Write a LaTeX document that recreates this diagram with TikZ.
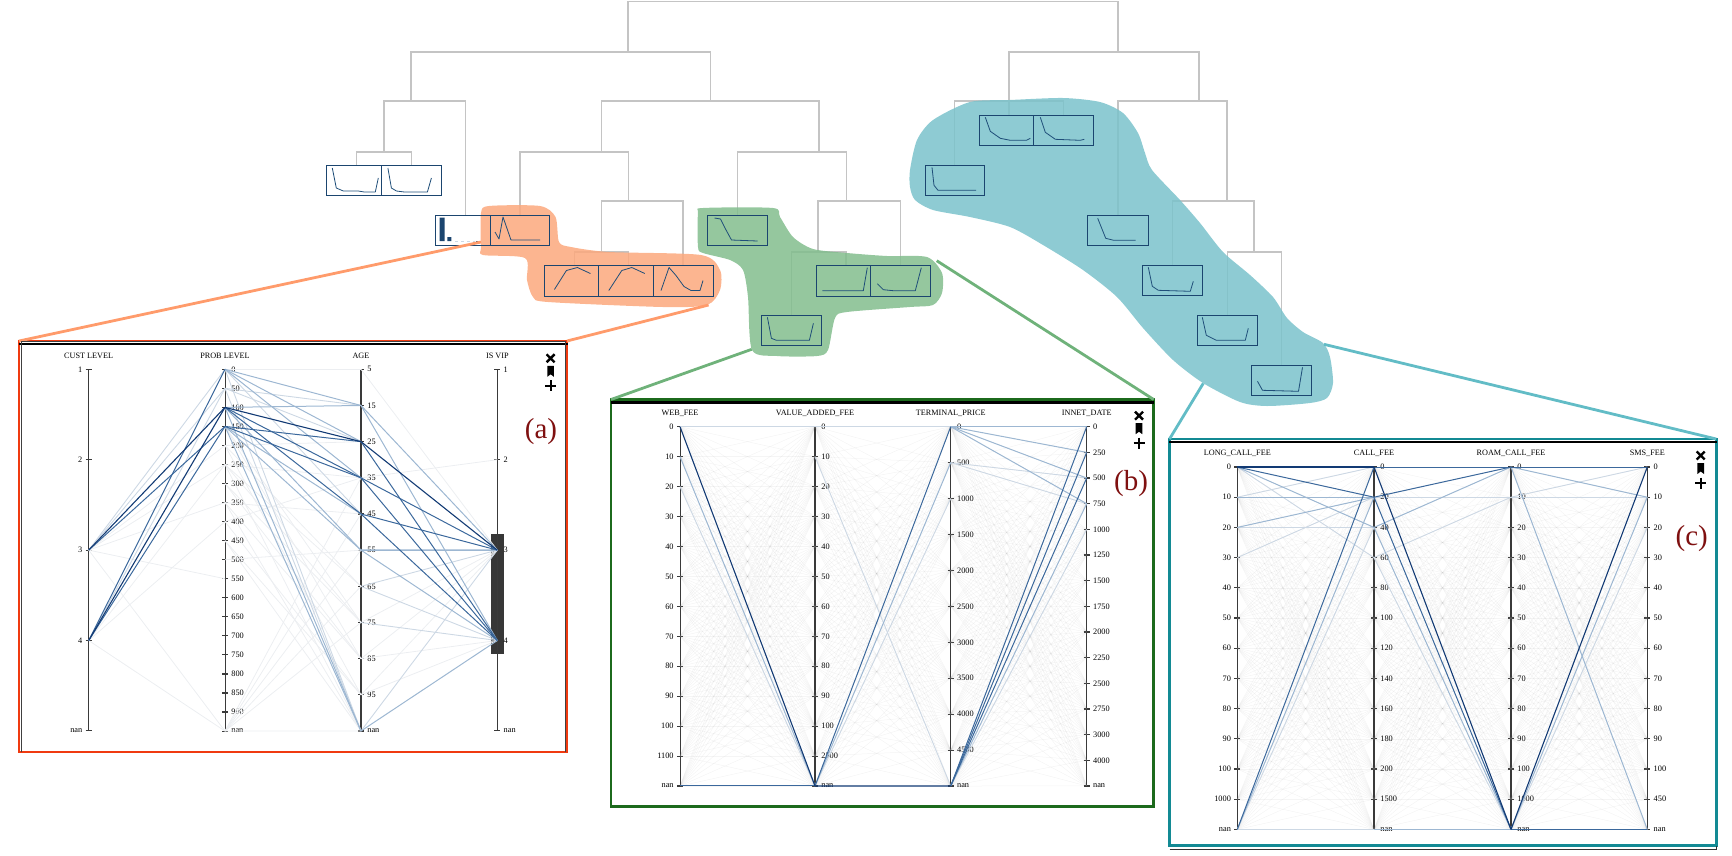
\documentclass[tikz,border=0pt]{standalone}
\usepackage{fontspec}
\setmainfont{Liberation Serif}
\usetikzlibrary{positioning,calc}
\definecolor{treegray}{HTML}{C4C4C4}
\definecolor{boxblue}{HTML}{1B456F}
\definecolor{sparkblue}{HTML}{1F4E79}
\definecolor{blobteal}{RGB}{122,194,203}
\definecolor{blobgreen}{RGB}{130,189,141}
\definecolor{bloborange}{RGB}{252,168,125}
\definecolor{linkorange}{HTML}{FF9B6B}
\definecolor{linkgreen}{HTML}{6FB27A}
\definecolor{linkteal}{HTML}{62BCC6}
\definecolor{frameorange}{HTML}{F03A10}
\definecolor{framegreen}{HTML}{1C6A1C}
\definecolor{frameteal}{HTML}{138A94}
\definecolor{markred}{HTML}{7F1010}
\definecolor{axisdark}{HTML}{3A3A3A}
\definecolor{rundark}{HTML}{123A74}
\definecolor{runmid}{HTML}{3B689C}
\definecolor{runlight}{HTML}{9DB7D2}
\definecolor{runpale}{HTML}{CDD8E4}
\definecolor{runfaint}{HTML}{ECEEF1}
\tikzset{
  treeline/.style={draw=treegray,line width=1.3pt},
  sparkbox/.style={inner sep=0pt,outer sep=0pt,minimum height=30.5pt,anchor=north west},
  sparkrun/.style={draw=sparkblue,line width=0.8pt,line join=round},
  panelframe/.style={draw=#1,line width=2.6pt,inner sep=0pt,outer sep=0pt,anchor=north west},
  axistext/.style={font=\fontsize{8.3}{8.3}\selectfont,inner sep=0pt},
  headtext/.style={font=\fontsize{8.2}{8.2}\selectfont,inner sep=0pt},
  panelmark/.style={font=\fontsize{29}{29}\selectfont,text=markred,inner sep=0pt},
  linkrun/.style={draw=#1,line width=2.8pt},
  darkrun/.style={draw=rundark,line width=1.1pt},
  midrun/.style={draw=runmid,line width=1pt},
  lightrun/.style={draw=runlight,line width=1pt},
  palerun/.style={draw=runpale,line width=0.9pt},
  faintrun/.style={draw=runfaint,line width=0.8pt},
  latticerun/.style={draw=black!45,line width=0.5pt,opacity=0.09},
  paneltools/.pic={
    \draw[black,line width=2.4pt] (-4,-17) -- (4,-9) (-4,-9) -- (4,-17);
    \fill[black] (-3.3,-5.5) -- (3.3,-5.5) -- (3.3,5.5) -- (0,3) -- (-3.3,5.5) -- cycle;
    \draw[black,line width=2.2pt] (-5.5,14.5) -- (5.5,14.5) (0,9) -- (0,20);
  }
}
% name, x, top, bottom, step, label side, labels
\newcommand{\paxis}[8][1pt]{
  \draw[draw=axisdark,line width=#1] (#3,#4) -- (#3,#5);
  \foreach \lab [count=\i from 0] in {#8} {
    \coordinate (#2-\i) at (#3,{#4+\i*#6});
    \draw[draw=axisdark,line width=1.1pt] ([xshift=-3pt]#2-\i) -- ([xshift=3pt]#2-\i);
    \node[axistext,#7=6.2pt] (#2-l\i) at (#2-\i) {\lab};
  }
}
\newcommand{\plattice}[4]{
  \foreach \i in {0,...,#2} \foreach \j in {0,...,#4} \draw[latticerun] (#1-\i) -- (#3-\j);
}
\begin{document}
\begin{tikzpicture}[x=1pt,y=-1pt]
\useasboundingbox (0,0) rectangle (1732,855);

% leaves of the tree
\coordinate (rootbar) at (628,1.5);
\coordinate (na) at (628,52); \coordinate (nb) at (1118,52);
\coordinate (na1) at (411,101); \coordinate (na2) at (710.5,101);
\coordinate (nb1) at (1009,101); \coordinate (nb2) at (1199,101);
\coordinate (na11) at (384,152); \coordinate (na21) at (601.5,152); \coordinate (na22) at (819,152);
\coordinate (na212) at (628.6,201); \coordinate (na222) at (846.4,201); \coordinate (nb22) at (1227,201);
\coordinate (na2121) at (601.5,252); \coordinate (na2221) at (818,252); \coordinate (nb222) at (1254,252);

\node[sparkbox,minimum width=55pt] (s1) at (326.3,165) {};
\node[sparkbox,minimum width=59.6pt] (s2) at (381.4,165) {};
\node[sparkbox,minimum width=54.6pt] (o1) at (435.4,215) {};
\node[sparkbox,minimum width=59.8pt] (o2) at (490,215) {};
\node[sparkbox,minimum width=54.4pt] (o3) at (544.4,265.5) {};
\node[sparkbox,minimum width=54.2pt] (o4) at (598.8,265.5) {};
\node[sparkbox,minimum width=60pt] (o5) at (653,265.5) {};
\node[sparkbox,minimum width=60pt] (g1) at (707.5,215) {};
\node[sparkbox,minimum width=54pt] (g2) at (816.3,265.7) {};
\node[sparkbox,minimum width=60.4pt] (g3) at (870.3,265.7) {};
\node[sparkbox,minimum width=60pt] (g4) at (761.4,315.3) {};
\node[sparkbox,minimum width=54pt] (t1) at (979.3,115.3) {};
\node[sparkbox,minimum width=60.4pt] (t2) at (1033.3,115.3) {};
\node[sparkbox,minimum width=59.3pt] (t3) at (925,165.3) {};
\node[sparkbox,minimum width=60.6pt] (t4) at (1087.7,215.3) {};
\node[sparkbox,minimum width=60.4pt] (t5) at (1142.3,265.3) {};
\node[sparkbox,minimum width=60.4pt] (t6) at (1197.3,315.3) {};
\node[sparkbox,minimum width=60.4pt] (t7) at (1251.5,365.3) {};

% tree
\draw[treeline] (na) |- (rootbar) -| (nb);
\draw[treeline] (na1) |- (na) -| (na2);
\draw[treeline] (nb1) |- (nb) -| (nb2);
\draw[treeline] (na11) |- (na1) -| ([xshift=2.9pt]o1.north);
\draw[treeline] ([xshift=2.7pt]s1.north) |- (na11) -| (s2.north);
\draw[treeline] (na21) |- (na2) -| (na22);
\draw[treeline] (o2.north) |- (na21) -| (na212);
\draw[treeline] (na2121) |- (na212) -| (o5.north);
\draw[treeline] ([xshift=2.7pt]o3.north) |- (na2121) -| ([xshift=2.7pt]o4.north);
\draw[treeline] (g1.north) |- (na22) -| (na222);
\draw[treeline] (na2221) |- (na222) -| (g3.north);
\draw[treeline] (g4.north) |- (na2221) -| ([xshift=2.7pt]g2.north);
\draw[treeline] (t3.north) |- (nb1) -| (t2.north);
\draw[treeline] (nb1) -- ([xshift=2.7pt]t1.north);
\draw[treeline] (t4.north) |- (nb2) -| (nb22);
\draw[treeline] (t5.north) |- (nb22) -| (nb222);
\draw[treeline] (t6.north) |- (nb222) -| (t7.north);

% selections
\fill[bloborange,fill opacity=0.85] plot[smooth cycle,tension=0.45] coordinates {(481,213) (489,206) (540,206) (555.5,217) (559,242) (571,247) (609,252) (701,255) (720,270) (720,290) (707,305) (663,307) (548,302) (533,297) (527,280) (525,258) (483,255) (481,247)};
\fill[blobgreen,fill opacity=0.85] plot[smooth cycle,tension=0.45] coordinates {(698,213) (703,208) (773,208) (780,217) (793,237) (813,249) (847,253) (887,256) (927,257) (942,273) (942,293) (933,305) (910,307) (847,312) (835,318) (828,350) (817,356) (777,356) (752,350) (748,297) (743,270) (730,260) (703,253) (698,247)};
\fill[blobteal,fill opacity=0.85] plot[smooth cycle,tension=0.45] coordinates {(910,170) (917,140) (933,120) (970,102) (1010,100) (1063,98) (1100,102) (1123,113) (1138,133) (1145,153) (1152,170) (1180,200) (1200,223) (1223,252) (1250,275) (1273,297) (1287,318) (1303,332) (1323,343) (1330,357) (1333,383) (1327,398) (1310,403) (1267,406) (1240,402) (1203,383) (1173,360) (1143,328) (1117,297) (1083,270) (1043,245) (1010,227) (970,217) (933,210) (915,200) (910,187)};

\foreach \b in {s1,s2,o1,o2,o3,o4,o5,g1,g2,g3,g4,t1,t2,t3,t4,t5,t6,t7}
  \draw[draw=boxblue,line width=1pt] (\b.north west) rectangle (\b.south east);

% small curves in the boxes
\draw[sparkrun,shift={(s1.north west)}] (6,3) -- (10,23) -- (17,26) -- (32,26) -- (38,27) -- (49,27) -- (52,13);
\draw[sparkrun,shift={(s2.north west)}] (6.5,3) -- (10,23) -- (15,26) -- (23,27) -- (46,27) -- (50,13);
\fill[boxblue,shift={(o1.north west)}] (4.2,2.5) rectangle (9.2,26) (12,22) rectangle (16,26);
\draw[draw=runpale,dashed,shift={(o1.north west)}] (20,26) -- (40,26);
\draw[sparkrun,shift={(o1.north west)}] (41,26) -- (45,26);
\draw[sparkrun,shift={(o2.north west)}] (5,17) -- (9,24) -- (13,2) -- (21,25) -- (50,25);
\draw[sparkrun,shift={(o3.north west)}] (10,24) -- (22,5) -- (33,2) -- (46,8);
\draw[sparkrun,shift={(o4.north west)}] (10,25) -- (23,5) -- (33,2) -- (46,8);
\draw[sparkrun,shift={(o5.north west)}] (8,25) -- (16,2) -- (23,10) -- (31,21) -- (38,25) -- (47,25) -- (50,15);
\draw[sparkrun,shift={(g1.north west)}] (7,3) -- (13,4) -- (18,14) -- (24,25) -- (50,26);
\draw[sparkrun,shift={(g2.north west)}] (6,25) -- (47,25) -- (51,2);
\draw[sparkrun,shift={(g3.north west)}] (7,18) -- (13,24) -- (23,25) -- (45,25) -- (51,2);
\draw[sparkrun,shift={(g4.north west)}] (6,2) -- (10,23) -- (15,25) -- (48,25) -- (52,8);
\draw[sparkrun,shift={(t1.north west)}] (6,2) -- (11,16) -- (21,23) -- (31,25) -- (47,25) -- (51,23);
\draw[sparkrun,shift={(t2.north west)}] (7,2) -- (12,17) -- (22,24) -- (47,25) -- (51,24);
\draw[sparkrun,shift={(t3.north west)}] (7,2) -- (9,20) -- (13,25) -- (51,25);
\draw[sparkrun,shift={(t4.north west)}] (10,3) -- (18,23) -- (26,25) -- (48,25);
\draw[sparkrun,shift={(t5.north west)}] (6,2) -- (10,21) -- (16,25) -- (48,26) -- (51,16);
\draw[sparkrun,shift={(t6.north west)}] (5,2) -- (9,20) -- (19,25) -- (48,25) -- (51,13);
\draw[sparkrun,shift={(t7.north west)}] (6,16) -- (11,25) -- (47,26) -- (51,2);

% frames and links
\node[panelframe=frameorange,minimum width=548pt,minimum height=411pt] (framea) at (19,341) {};
\node[panelframe=framegreen,minimum width=542.7pt,minimum height=406.7pt] (frameb) at (611,399.5) {};
\node[panelframe=frameteal,minimum width=546.7pt,minimum height=406.7pt] (framec) at (1169.5,439) {};
\coordinate (tipa1) at (481,242); \coordinate (tipa2) at (708.6,305);
\coordinate (tipb1) at (751.7,349.3); \coordinate (tipb2) at (936.7,260.7);
\coordinate (tipc1) at (1203.3,383.3); \coordinate (tipc2) at (1324,344.3);
\draw[linkrun=linkorange] (framea.north west) -- (tipa1);
\draw[linkrun=linkorange] (framea.north east) -- (tipa2);
\draw[linkrun=linkgreen] (frameb.north west) -- (tipb1);
\draw[linkrun=linkgreen] (frameb.north east) -- (tipb2);
\draw[linkrun=linkteal] (framec.north west) -- (tipc1);
\draw[linkrun=linkteal] (framec.north east) -- (tipc2);
\foreach \f in {framea,frameb,framec}
  \draw[black,line width=2.8pt] ([shift={(-0.5pt,-3pt)}]\f.north west) -- ([shift={(0.5pt,-3pt)}]\f.north east);
\draw[draw=black!75,line width=0.7pt] ([xshift=2pt]framea.south west) -- ([xshift=2pt]framea.north west) -- ([xshift=-2pt]framea.north east) -- ([xshift=-2pt]framea.south east);
\draw[draw=black!80,line width=0.7pt] ([yshift=-3.6pt]framec.south west) -- ([yshift=-3.6pt]framec.south east) -- (framec.south east);

% panel (a)
\fill[fill=axisdark!95!black] (491,534) rectangle (504,653.7);
\paxis{pa1}{88.7}{369.3}{731}{90.4}{left}{1,2,3,4,nan}
\paxis{pa2}{225}{369.3}{731}{19.04}{right}{0,50,100,150,200,250,300,350,400,450,500,550,600,650,700,750,800,850,900,nan}
\paxis[2pt]{pa3}{361}{369.3}{731}{36.17}{right}{5,15,25,35,45,55,65,75,85,95,nan}
\paxis{pa4}{497.3}{369.3}{731}{90.4}{right}{1,2,3,4,nan}
\node[headtext] (heada1) at (88.7,356) {CUST LEVEL};
\node[headtext] (heada2) at (225,356) {PROB LEVEL};
\node[headtext] (heada3) at (361,356) {AGE};
\node[headtext] (heada4) at (497.3,356) {IS VIP};
\foreach \u/\v in {pa1-2/pa2-4,pa1-2/pa2-5,pa1-2/pa2-7,pa1-2/pa2-11,pa1-2/pa2-19,pa1-3/pa2-5,pa1-3/pa2-8,pa1-3/pa2-19,
  pa2-4/pa3-6,pa2-5/pa3-6,pa2-5/pa3-7,pa2-6/pa3-7,pa2-6/pa3-8,pa2-7/pa3-8,pa2-8/pa3-9,pa2-9/pa3-9,pa2-5/pa3-10,pa2-7/pa3-10,pa2-9/pa3-10,
  pa2-4/pa3-2,pa2-5/pa3-3,pa2-7/pa3-4,pa2-8/pa3-3,pa2-10/pa3-5,pa2-19/pa3-3,pa2-19/pa3-4,pa2-19/pa3-5,pa2-19/pa3-6,pa2-19/pa3-7,pa2-19/pa3-10,pa2-0/pa3-0,
  pa2-3/pa3-7,pa2-3/pa3-8,pa2-4/pa3-9,
  pa3-0/pa4-2,pa3-8/pa4-3,pa3-8/pa4-2,pa3-9/pa4-2,pa3-9/pa4-3,pa3-7/pa4-2,pa3-3/pa4-1}
  \draw[faintrun] (\u) -- (\v);
\foreach \u/\v in {pa1-2/pa2-1,pa1-2/pa2-0,pa1-3/pa2-1,pa2-1/pa3-1,pa2-1/pa3-2,pa2-0/pa3-4,pa2-1/pa3-10,pa2-0/pa3-10,pa3-6/pa4-3,pa3-6/pa4-2,pa3-7/pa4-3,pa3-10/pa4-2}
  \draw[palerun] (\u) -- (\v);
\foreach \u/\v in {pa2-2/pa3-1,pa2-0/pa3-1,pa2-0/pa3-2,pa2-0/pa3-3,pa2-2/pa3-5,pa2-3/pa3-5,pa2-3/pa3-4,pa2-2/pa3-10,pa2-3/pa3-10,pa3-1/pa4-2,pa3-1/pa4-3,pa3-5/pa4-3,pa3-10/pa4-3}
  \draw[lightrun] (\u) -- (\v);
\draw[draw=runlight,line width=1.4pt] (pa3-5) -- (pa4-2);
\foreach \u/\v in {pa1-3/pa2-0,pa1-2/pa2-3,pa1-3/pa2-3,pa2-3/pa3-2,pa2-3/pa3-3,pa2-2/pa3-4,pa2-2/pa3-3,pa3-3/pa4-2,pa3-4/pa4-2,pa3-4/pa4-3,pa3-2/pa4-3,pa3-3/pa4-3}
  \draw[midrun] (\u) -- (\v);
\foreach \u/\v in {pa1-2/pa2-2,pa1-3/pa2-2,pa2-2/pa3-2,pa3-2/pa4-2}
  \draw[darkrun] (\u) -- (\v);
\pic at (550.6,371.3) {paneltools};
\node[panelmark] (marka) at (541,432) {(a)};

% panel (b)
\paxis{pb1}{680}{426.7}{786}{29.94}{left}{0,10,20,30,40,50,60,70,80,90,100,1100,nan}
\paxis[1.8pt]{pb2}{815}{426.7}{786}{29.94}{right}{0,10,20,30,40,50,60,70,80,90,100,2500,nan}
\paxis{pb3}{950.7}{426.7}{786}{35.93}{right}{0,500,1000,1500,2000,2500,3000,3500,4000,4500,nan}
\paxis[0.9pt]{pb4}{1086.7}{426.7}{786}{25.66}{right}{0,250,500,750,1000,1250,1500,1750,2000,2250,2500,2750,3000,4000,nan}
\node[headtext] (headb1) at (680,413.7) {WEB\_FEE};
\node[headtext] (headb2) at (815,413.7) {VALUE\_ADDED\_FEE};
\node[headtext] (headb3) at (950.7,413.7) {TERMINAL\_PRICE};
\node[headtext] (headb4) at (1086.7,413.7) {INNET\_DATE};
\plattice{pb1}{12}{pb2}{12}
\plattice{pb2}{12}{pb3}{10}
\plattice{pb3}{10}{pb4}{14}
\foreach \u/\v in {pb1-0/pb2-0,pb2-0/pb3-0,pb1-2/pb2-12,pb2-1/pb3-10,pb2-12/pb3-2,pb3-1/pb4-2,pb3-1/pb4-3,pb3-10/pb4-4}
  \draw[palerun] (\u) -- (\v);
\foreach \u/\v in {pb1-1/pb2-12,pb2-12/pb3-1,pb3-0/pb4-1,pb3-0/pb4-2,pb3-0/pb4-3,pb3-10/pb4-3,pb3-0/pb4-0}
  \draw[lightrun] (\u) -- (\v);
\foreach \u/\v in {pb1-12/pb2-12,pb2-12/pb3-0,pb3-10/pb4-0,pb3-10/pb4-1,pb3-10/pb4-2}
  \draw[midrun] (\u) -- (\v);
\foreach \u/\v in {pb1-0/pb2-12,pb2-12/pb3-10}
  \draw[darkrun] (\u) -- (\v);
\pic at (1139,428.7) {paneltools};
\node[panelmark] (markb) at (1131,484) {(b)};

% panel (c)
\paxis[1.3pt]{pc1}{1237.3}{467}{829.3}{30.2}{left}{0,10,20,30,40,50,60,70,80,90,100,1000,nan}
\paxis[1.5pt]{pc2}{1374}{467}{829.3}{30.2}{right}{0,20,40,60,80,100,120,140,160,180,200,1500,nan}
\paxis[2pt]{pc3}{1511}{467}{829.3}{30.2}{right}{0,10,20,30,40,50,60,70,80,90,100,1000,nan}
\paxis[1.2pt]{pc4}{1647.3}{467}{829.3}{30.2}{right}{0,10,20,30,40,50,60,70,80,90,100,450,nan}
\node[headtext] (headc1) at (1237.3,453.3) {LONG\_CALL\_FEE};
\node[headtext] (headc2) at (1374,453.3) {CALL\_FEE};
\node[headtext] (headc3) at (1511,453.3) {ROAM\_CALL\_FEE};
\node[headtext] (headc4) at (1647.3,453.3) {SMS\_FEE};
\plattice{pc1}{12}{pc2}{12}
\plattice{pc2}{12}{pc3}{12}
\plattice{pc3}{12}{pc4}{12}
\foreach \u/\v in {pc1-0/pc2-3,pc1-1/pc2-0,pc1-2/pc2-2,pc1-3/pc2-1,pc1-12/pc2-2,pc2-1/pc3-1,pc2-3/pc3-1,pc2-3/pc3-12,pc3-1/pc4-0,pc3-1/pc4-1,pc3-12/pc4-2,pc1-12/pc2-12}
  \draw[palerun] (\u) -- (\v);
\foreach \u/\v in {pc1-0/pc2-2,pc1-1/pc2-1,pc1-2/pc2-1,pc1-12/pc2-1,pc2-2/pc3-0,pc2-2/pc3-12,pc2-12/pc3-12,pc3-0/pc4-1,pc3-0/pc4-12,pc3-12/pc4-1}
  \draw[lightrun] (\u) -- (\v);
\foreach \u/\v in {pc1-0/pc2-1,pc1-12/pc2-0,pc2-0/pc3-0,pc2-1/pc3-0,pc2-1/pc3-12,pc3-0/pc4-0,pc3-12/pc4-12}
  \draw[midrun] (\u) -- (\v);
\foreach \u/\v in {pc1-0/pc2-0,pc2-0/pc3-12,pc3-12/pc4-0}
  \draw[darkrun] (\u) -- (\v);
\pic at (1700.7,468.5) {paneltools};
\node[panelmark] (markc) at (1691.7,539) {(c)};
\end{tikzpicture}
\end{document}
